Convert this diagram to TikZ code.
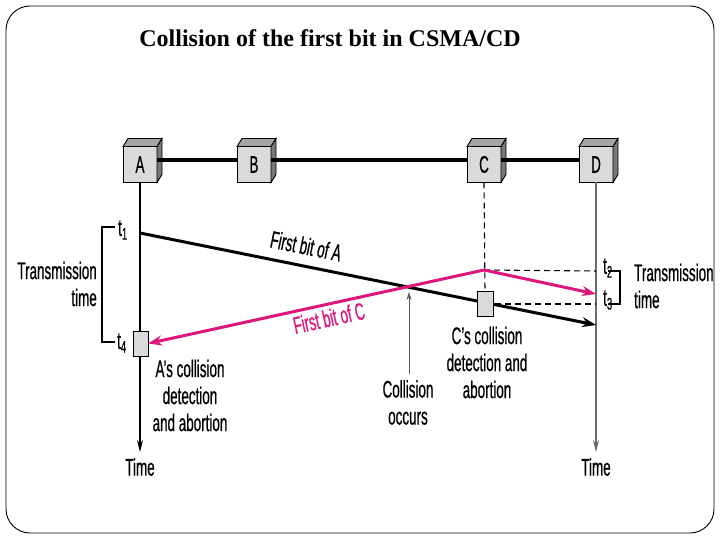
\documentclass[tikz,border=0pt]{standalone}
\usepackage{fontspec}
\setmainfont{Liberation Serif}
\newfontfamily\cf[FakeStretch=0.56,FakeBold=0.6]{Liberation Sans}
\usetikzlibrary{arrows.meta}
\definecolor{pinkc}{RGB}{222,22,122}
\definecolor{frontc}{RGB}{218,218,218}
\definecolor{topc}{RGB}{165,165,165}
\definecolor{sidec}{RGB}{120,120,120}
\tikzset{
  stn/.style={draw=black, line width=0.9pt, fill=frontc, minimum width=34pt, minimum height=36pt, inner sep=0pt, outer sep=0pt, font=\cf\fontsize{24}{28}\selectfont},
  sbox/.style={draw=black, line width=0.9pt, fill=frontc, minimum width=15pt, minimum height=25pt, inner sep=0pt, outer sep=0pt},
  lbl/.style={font=\cf\fontsize{24}{27}\selectfont, inner sep=0pt},
  bigarrow/.style={line width=3pt, -{Stealth[length=14pt,width=10pt]}},
  timearrow/.style={line width=1.1pt, -{Stealth[length=12pt,width=6pt,inset=4pt]}},
  dsh/.style={line width=1.1pt, dash pattern=on 6pt off 4pt},
}
\newcommand\mkstation[3]{%
  \node[stn] (#1) at (#2) {#3};
  \filldraw[fill=topc, line width=0.9pt] (#1.north west) -- ++(5,-8) -- ++(34,0) -- (#1.north east) -- cycle;
  \filldraw[fill=sidec, line width=0.9pt] (#1.north east) -- ++(5,-8) -- ++(0,36) -- (#1.south east) -- cycle;
}
\begin{document}
\begin{tikzpicture}[x=1pt,y=-1pt]
\useasboundingbox (0,0) rectangle (720,540);
\draw[line width=0.9pt, rounded corners=24pt] (6,6) rectangle (714,533);
\node[font=\bfseries\fontsize{24}{28}\selectfont] (title) at (330,38) {Collision of the first bit in CSMA/CD};

% stations
\mkstation{A}{140,164.5}{A}
\mkstation{B}{254,164.5}{B}
\mkstation{C}{484,164.5}{C}
\mkstation{D}{596,164.5}{D}
\draw[line width=4pt] ([yshift=4pt]A.east) -- ([yshift=4pt]B.west);
\draw[line width=4pt] ([yshift=4pt]B.east) -- ([yshift=4pt]C.west);
\draw[line width=4pt] ([yshift=4pt]C.east) -- ([yshift=4pt]D.west);

% coordinates
\coordinate (s1) at (140,233);
\coordinate (e1) at (596,325);
\coordinate (apex) at (484,270);
\coordinate (e2) at (596,294);
\coordinate (Aend) at (140,452);
\coordinate (Dend) at (596,452);
\coordinate (d2) at (596,271);
\coordinate (d3) at (596,304);
\coordinate (coll) at (409,292);
\coordinate (collb) at (409,374);

% time lines
\draw[timearrow] (A.south) -- (Aend);
\draw[timearrow, draw=gray!85!black] (D.south) -- (Dend);
\node[lbl] (timeA) at (140,467) {Time};
\node[lbl] (timeD) at (596,467) {Time};

% dashed
\draw[dsh] (C.south) -- (485,291);
\draw[dsh] (apex) -- (d2);
\draw[dsh] (485,304) -- (d3);

% first bits
\draw[bigarrow] (s1) -- (e1);
\node[sbox] (abox) at (140.5,343.5) {};
\node[sbox, minimum width=16pt] (cbox) at (485,303.5) {};
\draw[bigarrow, draw=pinkc] (apex) -- (abox.east);
\draw[bigarrow, draw=pinkc] (apex) -- (e2);

\node[lbl, rotate=-11.5] (fa) at (306,246) {First bit of A};
\node[lbl, rotate=12.3, text=pinkc] (fc) at (329,318) {First bit of C};

% collision arrow
\draw[line width=0.7pt, draw=gray!70!black, -{Stealth[length=8pt,width=5pt]}] (collb) -- (coll);
\node[lbl, align=center] (occ) at (408,402.5) {Collision\\occurs};

% brackets
\draw[line width=1.1pt] (115,227) -- (102,227) -- (102,342) -- (115,342);
\draw[line width=1.1pt] (608,271) -- (620,271) -- (620,304) -- (608,304);

% labels
\node[lbl, anchor=east, align=right] (ttl) at (97,284) {Transmission\\time};
\node[lbl, anchor=west, align=left] (ttr) at (634,286) {Transmission\\time};
\node[lbl, anchor=west] (t1) at (118,230) {t\textsubscript{1}};
\node[lbl, anchor=west] (t4) at (117,343) {t\textsubscript{4}};
\node[lbl, anchor=west] (t2) at (603,268) {t\textsubscript{2}};
\node[lbl, anchor=west] (t3) at (603,300) {t\textsubscript{3}};
\node[lbl, align=center] (acd) at (190,395.5) {A’s collision\\detection\\and abortion};
\node[lbl, align=center] (ccd) at (487,362.5) {C’s collision\\detection and\\abortion};
\end{tikzpicture}
\end{document}
